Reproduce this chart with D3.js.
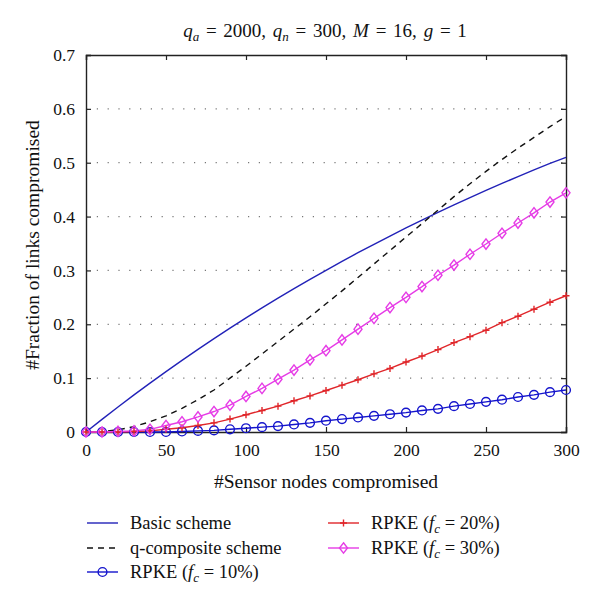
<!DOCTYPE html>
<html>
<head>
<meta charset="utf-8">
<title>Fraction of links compromised</title>
<script src="https://cdn.jsdelivr.net/npm/d3@7"></script>
<style>
  body { margin: 0; background: #fff; }
  svg text { font-family: "Liberation Serif", "Times New Roman", serif; fill: #111; }
</style>
</head>
<body>
<div id="main"></div>
<script>
	// sensor nodes compromised (x)
	var nodes = [0,10,20,30,40,50,60,70,80,90,100,110,120,130,140,150,160,170,180,190,200,210,220,230,240,250,260,270,280,290,300];

	// values
	var basicScheme = [0,0.0235,0.0465,0.0689,0.0908,0.1122,0.1331,0.1535,0.1734,0.1929,0.2119,0.2304,0.2485,0.2662,0.2835,0.3003,0.3168,0.3329,0.3485,0.3638,0.3788,0.3935,0.4077,0.4216,0.4353,0.4485,0.4615,0.4742,0.4866,0.4987,0.5100];
	var qComposite  = [0,0.001,0.004,0.010,0.019,0.030,0.044,0.060,0.078,0.100,0.122,0.145,0.168,0.191,0.214,0.238,0.262,0.287,0.312,0.337,0.362,0.387,0.412,0.437,0.461,0.484,0.506,0.527,0.547,0.567,0.586];
	var rpke10 = [0,0,0,0,0,0,0.001,0.002,0.003,0.005,0.007,0.009,0.011,0.014,0.017,0.021,0.024,0.027,0.030,0.033,0.036,0.040,0.043,0.048,0.052,0.056,0.060,0.065,0.069,0.074,0.078];
	var rpke20 = [0,0,0,0.001,0.002,0.005,0.008,0.012,0.017,0.024,0.032,0.040,0.048,0.058,0.067,0.077,0.087,0.097,0.108,0.118,0.130,0.141,0.153,0.166,0.177,0.189,0.203,0.215,0.228,0.241,0.253];
	var rpke30 = [0,0,0.001,0.002,0.005,0.012,0.019,0.028,0.038,0.050,0.066,0.081,0.098,0.115,0.134,0.151,0.171,0.191,0.211,0.231,0.250,0.270,0.291,0.310,0.330,0.349,0.369,0.388,0.407,0.427,0.444];

	var yTicks = [0,0.1,0.2,0.3,0.4,0.5,0.6,0.7];
	var xTicks = [0,50,100,150,200,250,300];

	var series = [
		{name: "Basic scheme",       values: basicScheme, colour: "#2222b8", dash: null,  marker: null},
		{name: "q-composite scheme", values: qComposite,  colour: "#111111", dash: "6,5", marker: null},
		{name: "10%",                values: rpke10,      colour: "#1414cc", dash: null,  marker: "circle"},
		{name: "20%",                values: rpke20,      colour: "#e0262a", dash: null,  marker: "plus"},
		{name: "30%",                values: rpke30,      colour: "#e63ce6", dash: null,  marker: "diamond"}
	];

	var screenWidth  = 600;
	var screenHeight = 615;
	var margin       = {left: 86, top: 55, right: 34, bottom: 183};
	var innerWidth   = screenWidth - margin.left - margin.right;
	var innerHeight  = screenHeight - margin.top - margin.bottom;

	var xScale = d3.scaleLinear().domain([0, 300]).range([0, innerWidth]);
	var yScale = d3.scaleLinear().domain([0, 0.7]).range([innerHeight, 0]);

	var svg = d3.select("#main").append("svg")
		.attr("width", screenWidth)
		.attr("height", screenHeight);

	var g = svg.append("g")
		.attr("transform", "translate(" + margin.left + "," + margin.top + ")");

	// dotted grid
	g.selectAll("line.grid").data(yTicks.slice(1, -1)).enter().append("line")
		.attr("class", "grid")
		.attr("x1", 0).attr("x2", innerWidth)
		.attr("y1", d => yScale(d)).attr("y2", d => yScale(d))
		.attr("stroke", "#777").attr("stroke-width", 1.2)
		.attr("stroke-dasharray", "1.2,9.6");

	// axes, ticks inward on all four sides
	var fmtY = d => d === 0 ? "0" : d3.format(".1f")(d);
	var axBottom = g.append("g").attr("transform", "translate(0," + innerHeight + ")")
		.call(d3.axisBottom(xScale).tickValues(xTicks).tickSize(-5).tickPadding(12));
	var axLeft = g.append("g")
		.call(d3.axisLeft(yScale).tickValues(yTicks).tickSize(-5).tickPadding(11).tickFormat(fmtY));
	var axTop = g.append("g")
		.call(d3.axisTop(xScale).tickValues(xTicks).tickSize(-5).tickFormat(""));
	var axRight = g.append("g").attr("transform", "translate(" + innerWidth + ",0)")
		.call(d3.axisRight(yScale).tickValues(yTicks).tickSize(-5).tickFormat(""));

	[axBottom, axLeft, axTop, axRight].forEach(function(a) {
		a.attr("font-size", 17.5).attr("font-family", "Liberation Serif");
		a.select(".domain").attr("stroke", "#222").attr("stroke-width", 1.4);
		a.selectAll(".tick line").attr("stroke", "#222").attr("stroke-width", 1.2);
		a.selectAll("text").attr("fill", "#111");
	});

	// lines
	var line = d3.line().x((d, i) => xScale(nodes[i])).y(d => yScale(d));

	series.forEach(function(s) {
		g.append("path")
			.attr("d", line(s.values))
			.attr("fill", "none")
			.attr("stroke", s.colour)
			.attr("stroke-width", 1.4)
			.attr("stroke-dasharray", s.dash);
	});

	function drawMarker(sel, type, colour) {
		if (type === "circle") {
			sel.append("circle").attr("r", 4.4)
				.attr("fill", "none").attr("stroke", colour).attr("stroke-width", 1.4);
		} else if (type === "plus") {
			sel.append("path").attr("d", "M-3.5,0H3.5M0,-3.5V3.5")
				.attr("fill", "none").attr("stroke", colour).attr("stroke-width", 1.4);
		} else if (type === "diamond") {
			sel.append("path").attr("d", "M0,-5.2L4,0L0,5.2L-4,0Z")
				.attr("fill", "none").attr("stroke", colour).attr("stroke-width", 1.4);
		}
	}

	series.filter(s => s.marker).forEach(function(s) {
		g.selectAll(null).data(s.values).enter().append("g")
			.attr("transform", (d, i) => "translate(" + xScale(nodes[i]) + "," + yScale(d) + ")")
			.each(function() { drawMarker(d3.select(this), s.marker, s.colour); });
	});

	// title
	var title = svg.append("text")
		.attr("x", 325).attr("y", 37)
		.attr("text-anchor", "middle").attr("font-size", 19);
	function part(t, opts) {
		var ts = title.append("tspan").text(t);
		if (opts && opts.it) ts.attr("font-style", "italic");
		if (opts && opts.sub) ts.attr("font-size", 13).attr("dy", 4);
		if (opts && opts.up) ts.attr("dy", -4);
		return ts;
	}
	part("q", {it: true}); part("a", {it: true, sub: true}); part(" = 2000, ", {up: true});
	part("q", {it: true}); part("n", {it: true, sub: true}); part(" = 300, ", {up: true});
	part("M", {it: true}); part(" = 16, "); part("g", {it: true}); part(" = 1");
	title.attr("word-spacing", 2);

	// axis titles
	svg.append("text")
		.attr("x", 326).attr("y", 488)
		.attr("text-anchor", "middle").attr("font-size", 19.5)
		.text("#Sensor nodes compromised");
	svg.append("text")
		.attr("transform", "translate(39,245) rotate(-90)")
		.attr("text-anchor", "middle").attr("font-size", 19.5)
		.text("#Fraction of links compromised");

	// legend
	var legendPos = [
		{x: 87,  y: 523},
		{x: 87,  y: 548},
		{x: 87,  y: 572},
		{x: 328, y: 523},
		{x: 328, y: 548}
	];
	series.forEach(function(s, i) {
		var p = legendPos[i];
		var lg = svg.append("g").attr("transform", "translate(" + p.x + "," + p.y + ")");
		lg.append("line").attr("x1", 0).attr("x2", 31).attr("y1", 0).attr("y2", 0)
			.attr("stroke", s.colour).attr("stroke-width", 1.4)
			.attr("stroke-dasharray", s.dash);
		if (s.marker) {
			var m = lg.append("g").attr("transform", "translate(15.5,0)");
			drawMarker(m, s.marker, s.colour);
		}
		var t = lg.append("text").attr("x", 43).attr("y", 6).attr("font-size", 18.5);
		if (s.marker) {
			t.append("tspan").text("RPKE (");
			t.append("tspan").attr("font-style", "italic").text("f");
			t.append("tspan").attr("font-style", "italic").attr("font-size", 13).attr("dy", 4).text("c");
			t.append("tspan").attr("dy", -4).text(" = " + s.name + ")");
		} else {
			t.text(s.name);
		}
	});
</script>
</body>
</html>
